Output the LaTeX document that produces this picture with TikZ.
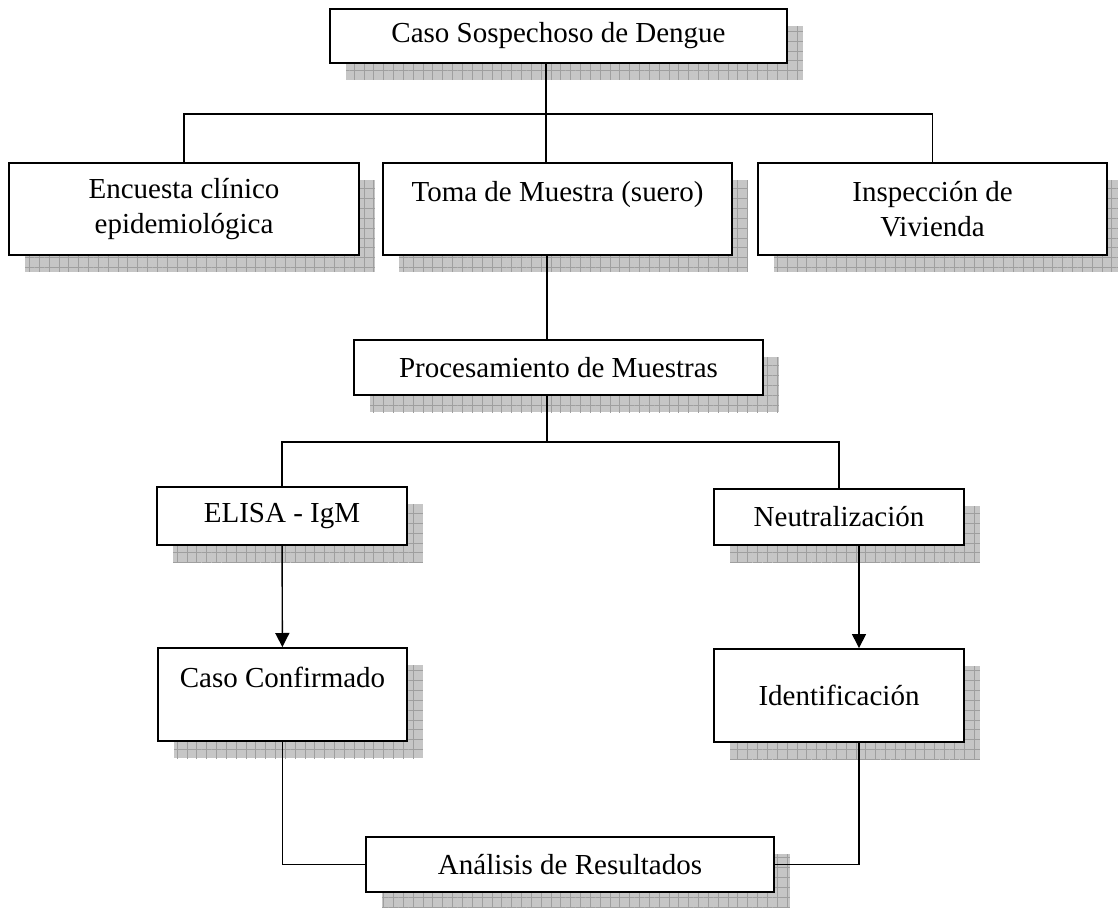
\documentclass[tikz,border=0pt]{standalone}
\usepackage{fontspec}
\setmainfont{Liberation Serif}
\usepackage{tikz}
\usetikzlibrary{arrows.meta,shadows,patterns.meta}

\begin{document}
\begin{tikzpicture}[x=0.02cm,y=-0.02cm,>={Triangle[length=8pt,width=8pt]},
	box/.style={draw,line width=1.1pt,fill=white,align=center,inner sep=0pt,
		font=\fontsize{16.5}{19.8}\selectfont,
		drop shadow={shadow xshift=0.32cm,shadow yshift=-0.34cm,opacity=1,fill=gray!45,
			postaction={pattern={Hatch[angle=0,distance=5.6pt,line width=0.5pt]},pattern color=gray!75}}},
	link/.style={line width=0.8pt}]
	\useasboundingbox (0,0) rectangle (1118,907);

	\node[box,minimum width=9.14cm,minimum height=1.08cm] (caso) at (558.5,36) {Caso Sospechoso de Dengue};
	\node[box,minimum width=7cm,minimum height=1.84cm] (encuesta) at (184,209) {Encuesta clínico\\epidemiológica};
	\node[box,minimum width=6.98cm,minimum height=1.84cm] (toma) at (557.5,209) {Toma de Muestra (suero)\\~};
	\node[box,minimum width=6.98cm,minimum height=1.84cm] (inspeccion) at (932.5,209) {Inspección de\\Vivienda};
	\node[box,minimum width=8.18cm,minimum height=1.1cm] (proc) at (558.5,367.5) {Procesamiento de Muestras};
	\node[box,minimum width=5cm,minimum height=1.16cm] (elisa) at (282,516) {ELISA - IgM};
	\node[box,minimum width=5cm,minimum height=1.12cm] (neutra) at (839,517) {Neutralización};
	\node[box,minimum width=4.98cm,minimum height=1.86cm] (confirmado) at (282.5,694.5) {Caso Confirmado\\~};
	\node[box,minimum width=5cm,minimum height=1.86cm] (ident) at (839,695.5) {Identificación};
	\node[box,minimum width=8.16cm,minimum height=1.1cm] (analisis) at (570,864.5) {Análisis de Resultados};

	% junction points
	\coordinate (j1) at (546,114);
	\coordinate (j2) at (547,442);
	\coordinate (j3) at (859,0);

	\draw[link] (j1 |- caso.south) -- (j1 |- toma.north);
	\draw[link] (encuesta.north) |- (j1) -| (inspeccion.north);
	\draw[link] (j2 |- toma.south) -- (j2 |- proc.north);
	\draw[link] (j2 |- proc.south) -- (j2);
	\draw[link] (elisa.north) |- (j2) -| (neutra.north);
	\draw[link,->] (elisa) -- (confirmado);
	\draw[link,->] (j3 |- neutra.south) -- (j3 |- ident.north);
	\draw[link] (confirmado.south) |- (analisis.west);
	\draw[link] (j3 |- ident.south) |- (analisis.east);
\end{tikzpicture}
\end{document}
